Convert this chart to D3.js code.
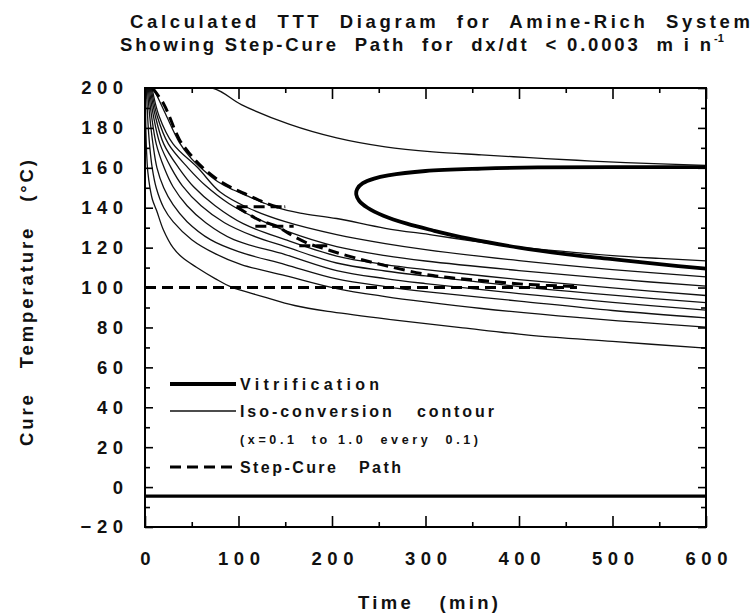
<!DOCTYPE html>
<html>
<head>
<meta charset="utf-8">
<script src="https://cdn.jsdelivr.net/npm/d3@7"></script>
<style>
  body { margin: 0; background: #ffffff; }
  text { font-family: "Liberation Sans", Arial, Helvetica, sans-serif; font-weight: bold; fill: #111; }
</style>
</head>
<body>
<svg id="ttt"></svg>
<script>
const width = 754, height = 614

// time axis (min) and temperature axis (°C)
const xTicks = [0, 100, 200, 300, 400, 500, 600]
const xMinorTicks = [50, 150, 250, 350, 450, 550]
const yTicks = [-20, 0, 20, 40, 60, 80, 100, 120, 140, 160, 180, 200]
const yMinorTicks = [-10, 10, 30, 50, 70, 90, 110, 130, 150, 170, 190]

// iso-conversion contours, [time, temperature]
const contour01 = [[0.4,200],[1,178],[2,165],[3,158],[5.3,150],[8,144],[12.5,138.5],[19.6,129],[30,120],[40,115],[55,110.2],[75,104.5],[92,100.3],[126,95.5],[160,91],[200,87.8],[270,83.6],[340,79.8],[410,76.2],[500,73],[600,69.6]]
const contour02 = [[1.5,200],[3,184],[5,171],[7.7,160],[12,150],[20,140],[30,133],[50,124],[75,117],[103,111.5],[150,106],[205,99.5],[257,95.5],[300,92.8],[360,89.5],[462,85],[530,82.5],[600,80.2]]
const contour03 = [[2.5,200],[5,186],[8.5,172],[12.8,160],[20,150],[30,141.5],[45,133],[70,124],[100,118],[150,111.5],[205,104.3],[257,100.5],[300,98],[400,93.2],[500,88.5],[600,84.8]]
const contour04 = [[3.5,200],[7,186],[12,172],[20.5,160],[30,150.5],[45,141],[65,132.5],[95,124],[150,116.5],[205,108.5],[257,104.5],[300,102],[400,97],[500,92.6],[600,88.7]]
const contour05 = [[4.5,200],[9,186],[16,172],[28,160],[40,151],[60,141],[85,132.5],[115,126],[150,120.5],[205,112.3],[257,108.3],[300,105.8],[400,100.5],[500,96.2],[600,92.4]]
const contour06 = [[5.5,200],[11,186],[20,172],[36,160],[52,150.5],[75,141],[105,132],[150,124],[205,115.8],[257,111.5],[300,109],[400,104],[500,99.8],[600,96]]
const contour07 = [[6.5,200],[13,186],[25,172],[46,160],[65,151],[90,142],[120,134.5],[150,128.5],[205,120.5],[257,116],[300,113.3],[400,108.5],[500,104.3],[600,100.7]]
const contour08 = [[7.5,200],[15,186],[30,172],[56.5,160],[80,148],[110,140],[150,133],[205,126.5],[257,122],[300,119],[400,113.5],[500,109],[600,105.3]]
const contour09 = [[9,200],[14,195],[22,187],[37,172.5],[48,165.5],[62,159],[78,153],[94,149],[110,145.8],[126,142.6],[141,140],[166,137.3],[205,134.6],[257,129.7],[308,126.3],[349,123.4],[400,120.2],[450,118],[500,116],[550,114.6],[600,113.4]]
const contour10 = [[0,200],[72,200],[103,191.7],[154,181.9],[205,175],[257,170.5],[308,168],[360,166.5],[411,165.1],[462,163.8],[514,162.6],[600,161.2]]
const contours = [contour01, contour02, contour03, contour04, contour05, contour06, contour07, contour08, contour09, contour10]

// vitrification curve (upper branch -> nose -> lower branch)
const vitrification = [[600,160.3],[500,160.3],[420,160.2],[360,159.6],[300,158.4],[260,156.2],[245,154.6],[233,152.3],[227,149.5],[226,146.5],[229,143.5],[238,140],[255,136],[280,132],[308,128.6],[345,124.6],[400,120],[450,116.8],[500,114.2],[550,111.7],[600,109.5]]
// Tg0 line
const tgZero = [[0,-4.5],[600,-4.5]]

// step-cure path pieces
const stepPathA = [[8,200],[20,192],[37,174],[48,167],[62,160],[78,154],[94,149.7],[110,146.4],[126,143],[141,140.5],[150,140.5]]
const stepHold140 = [[98,140.5],[150,140.5]]
const stepPathB = [[98,140.5],[110,137],[123,133.6],[141,130.7],[154,127],[175,122],[195,119],[216,116],[257,111],[308,106],[360,103.5],[411,101.5],[462,100.5]]
const stepHold130 = [[118,130.7],[159,130.7]]
const stepHold120 = [[165,121],[200,121]]
const stepHold100 = [[0,100],[462,100]]
const stepPieces = [stepPathA, stepHold140, stepPathB, stepHold130, stepHold120, stepHold100]

const plot = {left: 145, right: 706, top: 88, bottom: 527}

const svg = d3.select("svg#ttt")
    .attr("width", width)
    .attr("height", height)
    .attr("viewBox", [0, 0, width, height])
    .style("background", "#ffffff")

const x = d3.scaleLinear().domain([0, 600]).range([plot.left, plot.right])
const y = d3.scaleLinear().domain([-20, 200]).range([plot.bottom, plot.top])

svg.append("clipPath").attr("id", "clip")
    .append("rect")
    .attr("x", plot.left).attr("y", plot.top)
    .attr("width", plot.right - plot.left).attr("height", plot.bottom - plot.top)

const line = d3.line()
    .x(d => x(d[0]))
    .y(d => y(d[1]))
    .curve(d3.curveCatmullRom.alpha(0.5))

const marks = svg.append("g").attr("clip-path", "url(#clip)")

marks.selectAll("path.contour")
    .data(contours)
    .enter()
    .append("path").attr("class", "contour")
    .attr("d", line)
    .attr("fill", "none")
    .attr("stroke", "#111")
    .attr("stroke-width", 1.3)

marks.append("path")
    .attr("d", line(vitrification))
    .attr("fill", "none")
    .attr("stroke", "#000")
    .attr("stroke-width", 3.8)
    .attr("stroke-linejoin", "round")

marks.append("path")
    .attr("d", d3.line().x(d => x(d[0])).y(d => y(d[1]))(tgZero))
    .attr("fill", "none")
    .attr("stroke", "#000")
    .attr("stroke-width", 3.2)

marks.selectAll("path.step")
    .data(stepPieces)
    .enter()
    .append("path").attr("class", "step")
    .attr("d", line)
    .attr("fill", "none")
    .attr("stroke", "#000")
    .attr("stroke-width", 3)
    .attr("stroke-dasharray", "11,6")

// axes: ticks point inward on all four sides
function styleAxis(g) {
    g.select(".domain").remove()
    g.selectAll(".tick line").attr("stroke", "#000").attr("stroke-width", 1.6)
}

svg.append("g")
    .attr("transform", `translate(${plot.left},0)`)
    .call(d3.axisLeft(y).tickValues(yMinorTicks).tickSizeInner(-5).tickSizeOuter(0).tickFormat(""))
    .call(styleAxis)
const yAxis = svg.append("g")
    .attr("transform", `translate(${plot.left},0)`)
    .call(d3.axisLeft(y).tickValues(yTicks).tickSizeInner(-8).tickSizeOuter(0).tickPadding(22).tickFormat(d3.format("d")))
    .call(styleAxis)
yAxis.selectAll("text")
    .attr("font-size", 18.5)
    .attr("letter-spacing", 5.5)
    .attr("dx", 5.5)
    .attr("fill", "#111")

svg.append("g")
    .attr("transform", `translate(${plot.right},0)`)
    .call(d3.axisRight(y).tickValues(yMinorTicks).tickSizeInner(-5).tickSizeOuter(0).tickFormat(""))
    .call(styleAxis)
svg.append("g")
    .attr("transform", `translate(${plot.right},0)`)
    .call(d3.axisRight(y).tickValues(yTicks).tickSizeInner(-8).tickSizeOuter(0).tickFormat(""))
    .call(styleAxis)

svg.append("g")
    .attr("transform", `translate(0,${plot.bottom})`)
    .call(d3.axisBottom(x).tickValues(xMinorTicks).tickSizeInner(-5).tickSizeOuter(0).tickFormat(""))
    .call(styleAxis)
const xAxis = svg.append("g")
    .attr("transform", `translate(0,${plot.bottom})`)
    .call(d3.axisBottom(x).tickValues(xTicks).tickSizeInner(-11).tickSizeOuter(0).tickPadding(25).tickFormat(d3.format("d")))
    .call(styleAxis)
xAxis.selectAll("text")
    .attr("font-size", 18.5)
    .attr("letter-spacing", 5.5)
    .attr("dx", 2.75)
    .attr("fill", "#111")

svg.append("g")
    .attr("transform", `translate(0,${plot.top})`)
    .call(d3.axisTop(x).tickValues(xMinorTicks).tickSizeInner(-5).tickSizeOuter(0).tickFormat(""))
    .call(styleAxis)
svg.append("g")
    .attr("transform", `translate(0,${plot.top})`)
    .call(d3.axisTop(x).tickValues(xTicks).tickSizeInner(-11).tickSizeOuter(0).tickFormat(""))
    .call(styleAxis)

svg.append("rect")
    .attr("x", plot.left).attr("y", plot.top)
    .attr("width", plot.right - plot.left).attr("height", plot.bottom - plot.top)
    .attr("fill", "none")
    .attr("stroke", "#000")
    .attr("stroke-width", 2)

// titles
const pre = s => s.style("white-space", "pre")

svg.append("text").call(pre)
    .attr("x", 130).attr("y", 28)
    .attr("font-size", 18.5)
    .attr("textLength", 620).attr("lengthAdjust", "spacing")
    .text("Calculated  TTT  Diagram  for  Amine-Rich  System")
svg.append("text").call(pre)
    .attr("x", 120).attr("y", 51)
    .attr("font-size", 18.5)
    .attr("textLength", 591).attr("lengthAdjust", "spacing")
    .text("Showing Step-Cure  Path  for  dx/dt  < 0.0003  m i n")
svg.append("text")
    .attr("x", 714).attr("y", 42)
    .attr("font-size", 11)
    .text("-1")

svg.append("text").call(pre)
    .attr("x", 428).attr("y", 609)
    .attr("text-anchor", "middle")
    .attr("font-size", 18.5)
    .attr("textLength", 140).attr("lengthAdjust", "spacing")
    .text("Time   (min)")

svg.append("text").call(pre)
    .attr("transform", "translate(33,303) rotate(-90)")
    .attr("text-anchor", "middle")
    .attr("font-size", 18.5)
    .attr("textLength", 286).attr("lengthAdjust", "spacing")
    .text("Cure   Temperature   (°C)")

// legend
const legend = svg.append("g")
legend.append("line")
    .attr("x1", 170).attr("x2", 236).attr("y1", 384).attr("y2", 384)
    .attr("stroke", "#000").attr("stroke-width", 3.8)
legend.append("text")
    .attr("x", 240).attr("y", 390)
    .attr("font-size", 16)
    .attr("textLength", 139).attr("lengthAdjust", "spacing")
    .text("Vitrification")

legend.append("line")
    .attr("x1", 170).attr("x2", 236).attr("y1", 411).attr("y2", 411)
    .attr("stroke", "#111").attr("stroke-width", 1.3)
legend.append("text").call(pre)
    .attr("x", 240).attr("y", 417)
    .attr("font-size", 16)
    .attr("textLength", 254).attr("lengthAdjust", "spacing")
    .text("Iso-conversion   contour")

legend.append("text").call(pre)
    .attr("x", 240).attr("y", 444)
    .attr("font-size", 12.5)
    .attr("textLength", 238).attr("lengthAdjust", "spacing")
    .text("(x=0.1  to 1.0  every  0.1)")

legend.append("line")
    .attr("x1", 170).attr("x2", 234).attr("y1", 467).attr("y2", 467)
    .attr("stroke", "#000").attr("stroke-width", 3)
    .attr("stroke-dasharray", "11,6")
legend.append("text").call(pre)
    .attr("x", 240).attr("y", 473)
    .attr("font-size", 16)
    .attr("textLength", 161).attr("lengthAdjust", "spacing")
    .text("Step-Cure   Path")
</script>
</body>
</html>
